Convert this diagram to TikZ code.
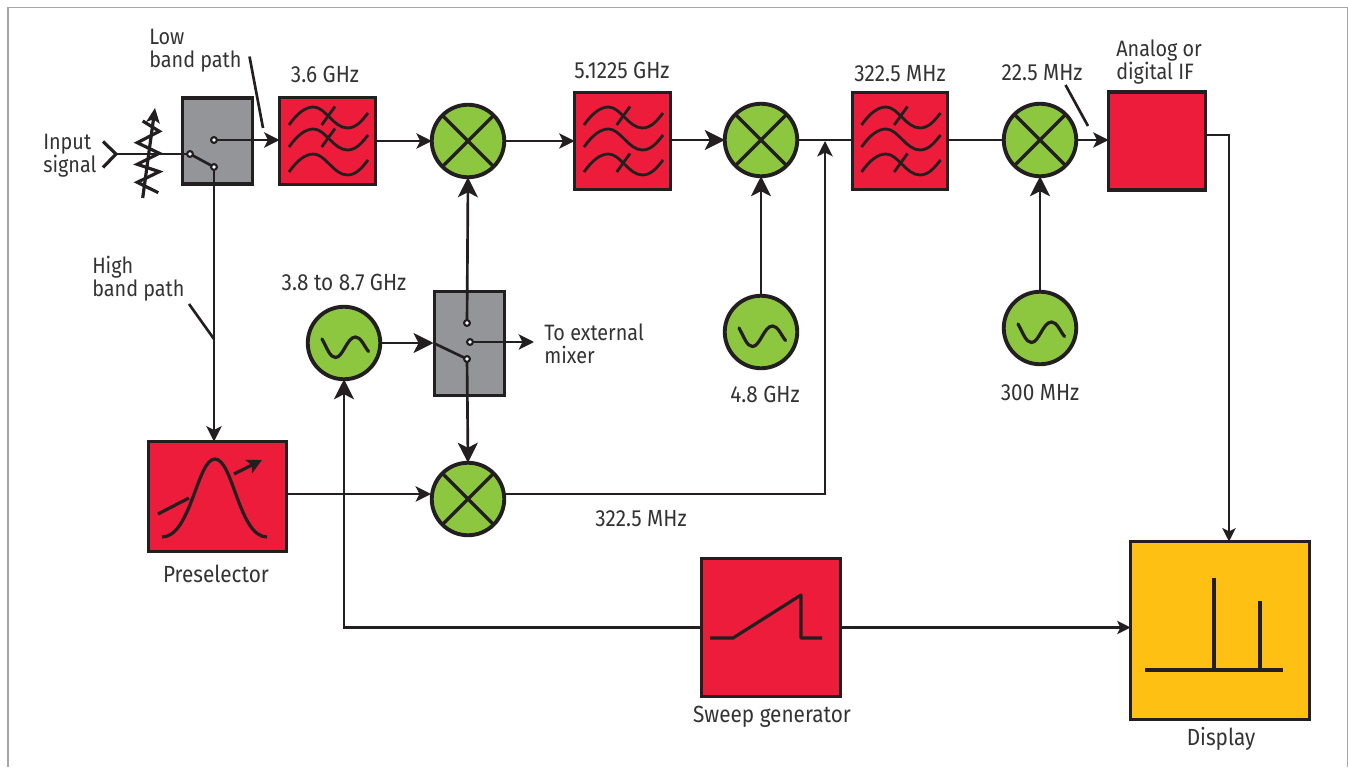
\documentclass[tikz,border=0pt]{standalone}
\usepackage{fontspec}
\setmainfont[FakeStretch=0.89]{Fira Sans}
\usetikzlibrary{arrows.meta}
\definecolor{dk}{HTML}{231F20}
\definecolor{rd}{HTML}{ED1C3A}
\definecolor{gn}{HTML}{8DC63F}
\definecolor{gy}{HTML}{939598}
\definecolor{yl}{HTML}{FFC014}
\definecolor{tx}{HTML}{333333}
\def\px{0.75pt}
\tikzset{
  x=0.75pt,y=-0.75pt,
  box/.style={draw=dk,line width=2.9pt,inner sep=0pt,outer sep=0pt},
  redbox/.style={box,fill=rd},
  grybox/.style={box,fill=gy,line width=2.5pt},
  yelbox/.style={box,fill=yl},
  mixcirc/.style={box,circle,fill=gn,minimum size=72.5*\px},
  contact/.style={circle,draw=dk,fill=white,line width=1.5pt,minimum size=5.6*\px,inner sep=0pt,outer sep=0pt},
  conn/.style={draw=dk,line width=2pt},
  glyph/.style={draw=dk,line width=2.4pt},
  thin glyph/.style={draw=dk,line width=2.1pt},
  big/.style={conn,-{Stealth[length=15pt,width=15pt,inset=3.8pt]}},
  med/.style={conn,-{Stealth[length=11.5pt,width=11.5pt,inset=2.8pt]}},
  sml/.style={conn,-{Stealth[length=10pt,width=10pt,inset=2.4pt]}},
  lbl/.style={text=tx,font=\fontsize{17.5}{17.2}\selectfont,inner sep=0pt},
  lbll/.style={lbl,font=\fontsize{16.7}{17.2}\selectfont,align=left,anchor=west},
  pics/waves/.style={code={
    \foreach \dy in {0,22,47}{
      \draw[thin glyph,yshift=-\dy*\px] (-38.5,-16) .. controls (-30,-28) and (-22,-34) .. (-14,-34)
        .. controls (-2,-34) and (6,-13) .. (20,-13) .. controls (29,-13) and (35,-21) .. (40.5,-28);
    }
  }},
  pics/wavetick/.style={code={\draw[thin glyph] (-5.8,-16) -- (7.5,-34.5);}},
  pics/sinewave/.style={code={
    \draw[glyph,line cap=round] (-22,-4) .. controls (-17,5) and (-14,14.5) .. (-8.5,14.5)
      .. controls (-1,14.5) and (3,-6) .. (11.5,-6) .. controls (17,-6) and (20,3) .. (24.5,8.5);
  }}
}
\begin{document}
\begin{tikzpicture}
\useasboundingbox (0,0) rectangle (1348,767);
\draw[color=gray!70,line width=1.2pt] (8,767) -- (8,7.5) -- (1347.5,7.5) -- (1347.5,767);

% boxes
\node[grybox,minimum width=70*\px,minimum height=86*\px] (sw1) at (217.5,141) {};
\node[redbox,minimum width=96*\px,minimum height=87*\px] (f1) at (327.5,141) {};
\node[mixcirc] (m1) at (468,141) {};
\node[redbox,minimum width=96*\px,minimum height=97*\px] (f2) at (622.5,141) {};
\node[mixcirc] (m2) at (761,140) {};
\node[redbox,minimum width=95*\px,minimum height=97*\px] (f3) at (900,141) {};
\node[mixcirc] (m3) at (1040,140) {};
\node[redbox,minimum width=97*\px,minimum height=98*\px] (ifb) at (1157,141) {};
\node[mixcirc] (o2) at (761,332) {};
\node[mixcirc] (o3) at (1040,328) {};
\node[mixcirc] (o1) at (344,343) {};
\node[grybox,minimum width=70*\px,minimum height=104*\px] (sw2) at (469.5,343.5) {};
\node[mixcirc] (m4) at (468,499) {};
\node[redbox,minimum width=138*\px,minimum height=110*\px] (pre) at (217.5,496.5) {};
\node[redbox,minimum width=139*\px,minimum height=138*\px] (swp) at (771,627.5) {};
\node[yelbox,minimum width=179*\px,minimum height=178*\px] (dsp) at (1220,630.5) {};

% glyphs
\foreach \m in {m1,m2,m3,m4}{
  \draw[draw=dk,line width=2.6pt] (\m.45) -- (\m.225) (\m.135) -- (\m.315);
}
\pic at (327.5,141) {waves};
\pic at (327.5,141) {wavetick};
\pic at ([yshift=-22*\px]327.5,141) {wavetick};
\pic at (622.5,141) {waves};
\pic at (622.5,141) {wavetick};
\pic at ([yshift=-47*\px]622.5,141) {wavetick};
\pic at (900,141) {waves};
\pic at (900,141) {wavetick};
\pic at ([yshift=-47*\px]900,141) {wavetick};
\pic at (761,332) {sinewave};
\pic at (1040,328) {sinewave};
\pic at (344,343) {sinewave};
% preselector glyph
\draw[glyph] (162,537) .. controls (191,537) and (197,459) .. (215,459) .. controls (233,459) and (239,537) .. (267,537);
\draw[glyph] (158,514) -- (189,498);
\draw[glyph,-{Stealth[length=11pt,width=11pt,inset=2.4pt]}] (234,474) -- (262,460);
% sweep glyph
\draw[glyph,line join=round] (710,638) -- (733,638) -- (801,595) -- (801,638) -- (822,638);
% display glyph
\draw[glyph] (1145,670) -- (1283,670);
\draw[glyph] (1214,578) -- (1214,670);
\draw[glyph] (1260,601) -- (1260,670);

% contacts
\coordinate (in) at (116,154);
\node[contact] (c1) at (190,154) {};
\node[contact] (c2) at (214,140) {};
\node[contact] (c3) at (214,167) {};
\node[contact] (c4) at (467,323) {};
\node[contact] (c5) at (470,342) {};
\node[contact] (c6) at (467,359) {};

% input attenuator
\draw[glyph] (103,141.5) -- (in) -- (103,167.5);
\draw[conn] (in) -- (c1);
\draw[glyph] (142.7,121) -- (159.3,131.3) -- (137.3,142.7) -- (159.3,153.3) -- (137.3,164.3) -- (159.3,171.7) -- (137.3,182.3) -- (158.3,192.7);
\draw[glyph,-{Stealth[length=11pt,width=10pt,inset=2.4pt]}] (142.7,198) -- (155,108);

% connectors
\draw[conn] (c1) -- (c3);
\draw[med] (c2) -- (f1.west |- c2);
\draw[med] (c3) -- (pre.north -| c3);
\draw[med] (f1.east) -- (m1.west);
\draw[med] (m1.east) -- (f2.west);
\draw[big] (f2.east |- m2.west) -- (m2.west);
\draw[conn] (m2.east) -- (f3.west |- m2.east);
\draw[conn] (f3.east |- m3.west) -- (m3.west);
\draw[med] (m3.east) -- (ifb.west |- m3.east);
\draw[big] (c4) -- (m1.south);
\draw[big] (o2.north) -- (m2.south);
\draw[big] (o3.north) -- (m3.south);
\coordinate (sw2in) at (433.5,343);
\draw[big] (o1.east) -- (sw2in);
\draw[conn] (sw2in) -- (c6);
\draw[med] (c5) -- ++(64,0) coordinate (ext);
\draw[big] (c6) -- (m4.north);
\coordinate (j0) at (431,494);
\draw[med] (pre.east |- j0) -- (j0);
\coordinate (j1) at (825,494);
\coordinate (j2) at (825,141);
\draw[med] (m4.east |- j1) -- (j1) -- (j2);
\coordinate (j3) at (1229,135);
\draw[sml] (ifb.east |- j3) -- (j3) -- (dsp.north -| j3);
\draw[sml] (swp.east) -- (dsp.west |- swp.east);
\draw[big] (swp.west) -| (o1.south);

% redraw contacts over the lines
\foreach \c in {c1,c2,c3,c4,c5,c6}{
  \node[contact] at (\c) {};
}

% leaders
\coordinate (l1a) at (249.5,56.5);
\coordinate (l1b) at (263,128);
\draw[conn] (l1a) -- (l1b);
\coordinate (l2a) at (189,304);
\coordinate (l2b) at (214,339);
\draw[conn] (l2a) -- (l2b);
\coordinate (l3a) at (1065.5,85);
\coordinate (l3b) at (1088,126);
\draw[conn] (l3a) -- (l3b);

% labels
\node[lbll] (t1) at (149,51) {Low\\band path};
\node[lbll] (t2) at (43,156) {Input\\signal};
\node[lbl] (t3) at (325,74) {3.6 GHz};
\node[lbl] (t4) at (622,70) {5.1225 GHz};
\node[lbl] (t5) at (900,74) {322.5 MHz};
\node[lbl] (t6) at (1042,73) {22.5 MHz};
\node[lbll] (t7) at (1116,62) {Analog or\\digital IF};
\node[lbl] (t8) at (344,282) {3.8 to 8.7 GHz};
\node[lbll] (t9) at (544,343.5) {To external\\mixer};
\node[lbl] (t10) at (765,394) {4.8 GHz};
\node[lbl] (t11) at (1040,393) {300 MHz};
\node[lbl] (t12) at (641,519) {322.5 MHz};
\node[lbll] (t13) at (92,278.5) {High\\band path};
\node[lbl] (t14) at (216,574) {Preselector};
\node[lbl] (t15) at (772,717) {Sweep generator};
\node[lbl] (t16) at (1221,739) {Display};
\end{tikzpicture}
\end{document}
